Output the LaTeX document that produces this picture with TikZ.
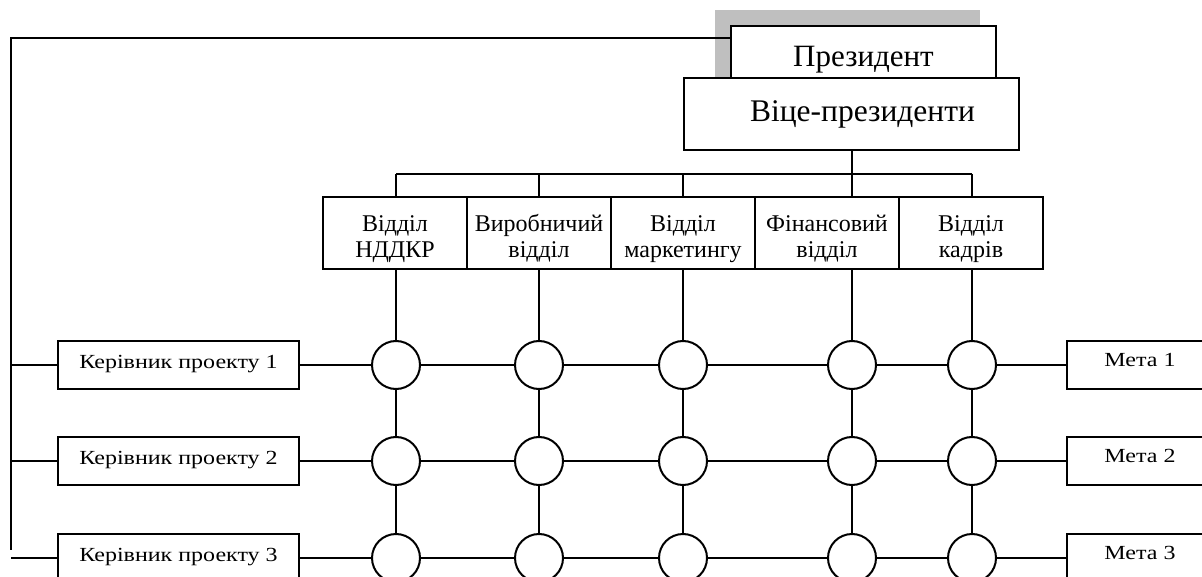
\documentclass[tikz,border=0pt]{standalone}
\usepackage{fontspec}
\setmainfont{Liberation Serif}
\newfontfamily\widefont[FakeStretch=1.2]{Liberation Serif}
\usetikzlibrary{calc}
\tikzset{
	box/.style={draw, line width=2pt, fill=white, rectangle, inner sep=0pt},
	hub/.style={draw, line width=2pt, fill=white, circle, minimum size=48pt, inner sep=0pt},
	link/.style={line width=2pt},
	dept/.style={box, minimum width=144pt, minimum height=72pt, align=center, text height=54pt, text depth=5pt, font=\fontsize{24}{26}\selectfont},
	chief/.style={box, minimum width=241pt, minimum height=48pt, text height=15pt, text depth=9pt, font=\widefont\fontsize{20}{24}\selectfont},
	goal/.style={box, minimum width=146pt, minimum height=48pt, text height=14pt, text depth=11pt, font=\widefont\fontsize{20}{24}\selectfont}
}

\begin{document}
\begin{tikzpicture}[x=1pt, y=-1pt]
		%%%%% START %%%%%
		\useasboundingbox (0, 0) rectangle (1202, 577);
		\clip (0, 0) rectangle (1202, 577);
		
		\fill[black!25] (715, 10) rectangle (980, 78);
		\node[box, minimum width=265pt, minimum height=52pt, text height=29pt, text depth=0pt, font=\fontsize{31}{34}\selectfont] (pres) at (863.5, 52) {Президент};
		\node[box, minimum width=335pt, minimum height=72pt, font=\fontsize{31.5}{34}\selectfont] (vice) at (851.5, 114) {\hspace*{22pt}Віце-президенти};
		
		\node[dept] (d1) at (395, 233) {Відділ\\НДДКР};
		\node[dept] (d2) at (539, 233) {Виробничий\\відділ};
		\node[dept] (d3) at (683, 233) {Відділ\\маркетингу};
		\node[dept] (d4) at (827, 233) {Фінансовий\\відділ};
		\node[dept] (d5) at (971, 233) {Відділ\\кадрів};
		
		\coordinate (bus) at (0, 174);
		\coordinate (corner) at (11, 38.5);
		\coordinate (spine) at (11, 550);
		
		\foreach \r/\y in {1/365, 2/461, 3/558} {
			\node[chief] (p\r) at (178.5, \y) {Керівник проекту \r};
			\node[goal] (g\r) at (1140, \y) {Мета \r};
			\foreach \c/\x in {1/396, 2/539, 3/683, 4/852, 5/972}
				\node[hub] (c\r\c) at (\x, \y) {};
		}
		
		% president line to the left side
		\draw[link] (pres.west |- corner) -- (corner) -- (spine);
		\foreach \r in {1, 2, 3}
			\draw[link] (corner |- p\r) -- (p\r.west);
		
		% vice presidents to departments
		\draw[link] (vice.south) -- (vice.south |- bus);
		\draw[link] (c11 |- bus) -- (c15 |- bus);
		\foreach \c in {1, ..., 5} {
			\draw[link] (c1\c |- bus) -- (c1\c |- d\c.north);
			\draw[link] (c1\c |- d\c.south) -- (c1\c.north);
			\draw[link] (c1\c.south) -- (c2\c.north);
			\draw[link] (c2\c.south) -- (c3\c.north);
			\draw[link] (c3\c.south) -- ++(0, 20);
		}
		
		% rows
		\foreach \r in {1, 2, 3} {
			\draw[link] (p\r.east) -- (c\r1.west);
			\draw[link] (c\r1.east) -- (c\r2.west);
			\draw[link] (c\r2.east) -- (c\r3.west);
			\draw[link] (c\r3.east) -- (c\r4.west);
			\draw[link] (c\r4.east) -- (c\r5.west);
			\draw[link] (c\r5.east) -- (g\r.west);
		}
		%%%%% END %%%%%
	\end{tikzpicture}
\end{document}
